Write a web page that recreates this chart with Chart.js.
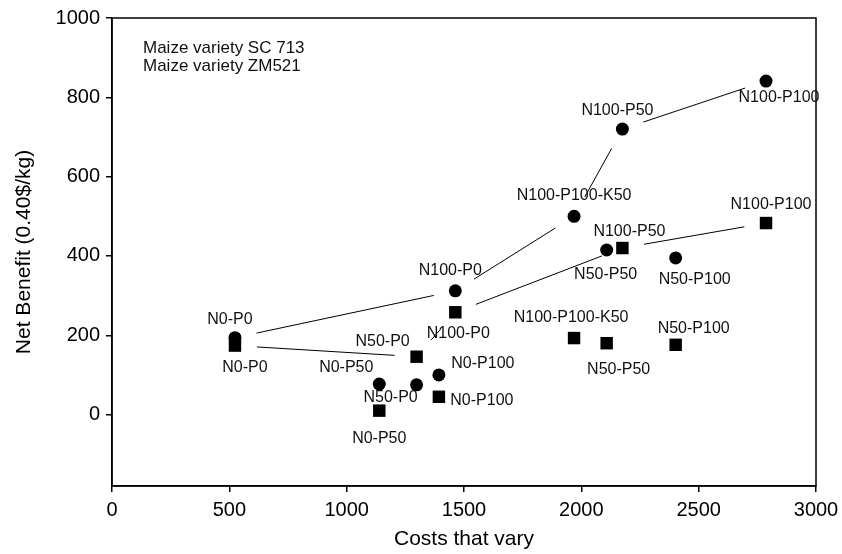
<!DOCTYPE html>
<html>
<head>
<meta charset="utf-8">
<script src="https://cdn.jsdelivr.net/npm/chart.js@4/dist/chart.umd.min.js"></script>
<style>
	body { margin: 0; background: #fff; }
	#wrap { width: 842px; height: 554px; }
</style>
</head>
<body>
<div id="wrap"><canvas id="myChart" width="842" height="554"></canvas></div>
<script>
// fertilizer treatments, shared by both maize varieties
const treatments = ['N0-P0', 'N0-P50', 'N50-P0', 'N0-P100', 'N100-P0', 'N100-P100-K50', 'N50-P50', 'N100-P50', 'N50-P100', 'N100-P100'];
const costs = [524, 1139, 1298, 1393, 1463, 1969, 2108, 2175, 2402, 2787];

const benefit_sc713 = [194, 77, 75, 100, 312, 500, 415, 720, 395, 841];
const benefit_zm521 = [174, 10, 146, 45, 258, 193, 180, 420, 176, 483];

// treatments joined by the dominance lines
const frontier_sc713 = ['N0-P0', 'N100-P0', 'N100-P100-K50', 'N100-P50', 'N100-P100'];
const frontier_zm521 = ['N0-P0', 'N50-P0', 'N100-P0', 'N100-P50', 'N100-P100'];

const x_ticks = [0, 500, 1000, 1500, 2000, 2500, 3000];
const y_ticks = [0, 200, 400, 600, 800, 1000];

// where each treatment name sits next to its marker (px)
const label_offset_sc713 = [[-5, -18], [-33, -16], [-26, 13], [44, -11], [-5, -20], [0, -21], [-1, 25], [-5, -18], [19, 22], [13, 17]];
const label_offset_zm521 = [[10, 22], [0, 28], [-34, -15], [43, 4], [3, 21], [-3, -20], [12, 26], [7, -16], [18, -16], [5, -18]];

const font_family = '"Liberation Sans", Arial, Helvetica, sans-serif';
const line_gap = 22;

function points(values) {
	return costs.map((c, i) => ({ x: c, y: values[i] }));
}

const annotate = {
	id: 'annotate',
	afterDatasetsDraw(chart) {
		const { ctx, chartArea: a, scales: { x, y } } = chart;
		ctx.save();

		// plot frame
		ctx.strokeStyle = '#000';
		ctx.lineWidth = 1.5;
		ctx.strokeRect(a.left, a.top, a.right - a.left, a.bottom - a.top);

		// frontier lines, stopped short of the markers
		ctx.lineWidth = 1;
		[[frontier_sc713, benefit_sc713], [frontier_zm521, benefit_zm521]].forEach(([path, vals]) => {
			for (let i = 0; i < path.length - 1; i++) {
				const p = treatments.indexOf(path[i]);
				const q = treatments.indexOf(path[i + 1]);
				const x1 = x.getPixelForValue(costs[p]), y1 = y.getPixelForValue(vals[p]);
				const x2 = x.getPixelForValue(costs[q]), y2 = y.getPixelForValue(vals[q]);
				const len = Math.hypot(x2 - x1, y2 - y1);
				const ux = (x2 - x1) / len, uy = (y2 - y1) / len;
				ctx.beginPath();
				ctx.moveTo(x1 + ux * line_gap, y1 + uy * line_gap);
				ctx.lineTo(x2 - ux * line_gap, y2 - uy * line_gap);
				ctx.stroke();
			}
		});

		// treatment names
		ctx.fillStyle = '#111';
		ctx.font = '16px ' + font_family;
		ctx.textAlign = 'center';
		ctx.textBaseline = 'middle';
		[[benefit_sc713, label_offset_sc713], [benefit_zm521, label_offset_zm521]].forEach(([vals, offs]) => {
			treatments.forEach((t, i) => {
				const px = x.getPixelForValue(costs[i]) + offs[i][0];
				const py = y.getPixelForValue(vals[i]) + offs[i][1];
				ctx.fillText(t, px, py);
			});
		});

		// series names in the corner
		ctx.font = '17px ' + font_family;
		ctx.textAlign = 'left';
		chart.data.datasets.forEach((ds, i) => {
			ctx.fillText(ds.label, 143, 48 + i * 18);
		});
		ctx.restore();
	}
};

const config = {
	type: 'scatter',
	data: {
		datasets: [
			{
				label: 'Maize variety SC 713',
				data: points(benefit_sc713),
				pointStyle: 'circle',
				pointRadius: 6.5,
				backgroundColor: '#000',
				borderColor: '#000',
				borderWidth: 0,
			},
			{
				label: 'Maize variety ZM521',
				data: points(benefit_zm521),
				pointStyle: 'rect',
				pointRadius: 8.8,
				backgroundColor: '#000',
				borderColor: '#000',
				borderWidth: 0,
			},
		],
	},
	options: {
		responsive: false,
		animation: false,
		layout: { padding: { left: 0, right: 26, top: 17, bottom: 0 } },
		plugins: {
			legend: { display: false },
			tooltip: { enabled: false },
		},
		scales: {
			x: {
				type: 'linear',
				min: 0,
				max: 3000,
				afterBuildTicks: (scale) => { scale.ticks = x_ticks.map(v => ({ value: v })); },
				afterFit: (scale) => {
					scale.height = 68;
					scale.paddingLeft = 0;
					scale.paddingRight = 0;
				},
				grid: { drawOnChartArea: false, drawTicks: true, tickLength: 6, color: '#000', lineWidth: 1.5 },
				border: { color: '#000', width: 1.5 },
				ticks: { color: '#000', padding: 6, maxRotation: 0, callback: (v) => String(v), font: { family: font_family, size: 20 } },
				title: {
					display: true,
					text: 'Costs that vary',
					color: '#000',
					padding: { top: 0, bottom: 2 },
					font: { family: font_family, size: 21 },
				},
			},
			y: {
				type: 'linear',
				min: -180,
				max: 1000,
				afterBuildTicks: (scale) => { scale.ticks = y_ticks.map(v => ({ value: v })); },
				afterFit: (scale) => { scale.width = 112; },
				grid: { drawOnChartArea: false, drawTicks: true, tickLength: 6, color: '#000', lineWidth: 1.5 },
				border: { color: '#000', width: 1.5 },
				ticks: { color: '#000', padding: 6, callback: (v) => String(v), font: { family: font_family, size: 20 } },
				title: {
					display: true,
					text: 'Net Benefit (0.40$/kg)',
					color: '#000',
					padding: { top: 12, bottom: 0 },
					font: { family: font_family, size: 21 },
				},
			},
		},
	},
	plugins: [annotate],
};

var myChart = new Chart(document.getElementById('myChart'), config);
</script>
</body>
</html>
